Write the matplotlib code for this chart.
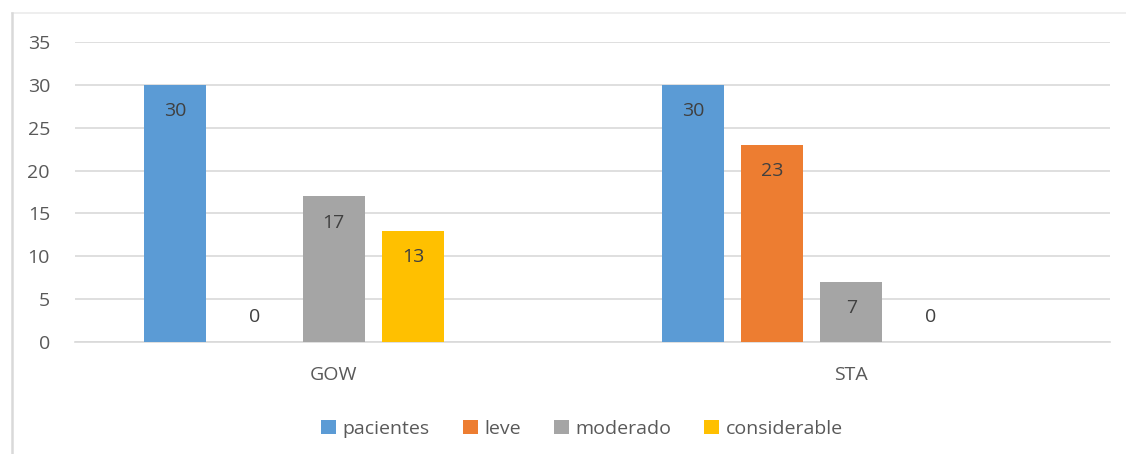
import numpy as np
import matplotlib
matplotlib.use("Agg")
import matplotlib.pyplot as plt
from matplotlib.lines import Line2D

categories = ["GOW", "STA"]
series_names = ["pacientes", "leve", "moderado", "considerable"]
pacientes = [30, 30]
leve = [0, 23]
moderado = [17, 7]
considerable = [13, 0]
colors = ["#5B9BD5", "#ED7D31", "#A5A5A5", "#FFC000"]

plt.rcParams["font.family"] = ["Open Sans", "DejaVu Sans"]
text_color = "#595959"

fig = plt.figure(figsize=(11.26, 4.54), dpi=100)
# chart border (cropped at right/bottom like the original)
fig.add_artist(Line2D([12 / 1126, 1.0], [1 - 13 / 454, 1 - 13 / 454],
                      transform=fig.transFigure, color="#EBEBEB", linewidth=1.2))
fig.add_artist(Line2D([12 / 1126, 12 / 1126], [0, 1 - 13 / 454],
                      transform=fig.transFigure, color="#D9D9D9", linewidth=1.8))

ax = fig.add_axes([75 / 1126, 112 / 454, 1035 / 1126, 300 / 454])

x = np.arange(len(categories))
width = 0.12
step = 0.153
values = [pacientes, leve, moderado, considerable]
for i, (name, vals, c) in enumerate(zip(series_names, values, colors)):
    pos = x + (i - 2) * step
    bars = ax.bar(pos, vals, width, color=c, label=name, zorder=3)
    for b, v in zip(bars, vals):
        off = -19 if v > 0 else 18
        ax.annotate(str(v), (b.get_x() + b.get_width() / 2, v),
                    xytext=(0, off), textcoords="offset points",
                    ha="center", va="center", fontsize=14, color="#404040", zorder=4)

ax.set_xlim(-0.5, 1.5)
ax.set_ylim(0, 35)
ax.set_yticks(range(0, 36, 5))
ax.set_xticks(x)
ax.set_xticklabels(categories)
ax.grid(axis="y", color="#D9D9D9", linewidth=1.2, zorder=0)
for s in ["top", "right", "left"]:
    ax.spines[s].set_visible(False)
ax.spines["bottom"].set_color("#D9D9D9")
ax.spines["bottom"].set_linewidth(1.2)
ax.tick_params(length=0, labelsize=14, colors=text_color)
ax.tick_params(axis="y", pad=18)
ax.tick_params(axis="x", pad=17)

ax.legend(loc="upper center", bbox_to_anchor=(0.49, -0.2), ncol=4, frameon=False,
          fontsize=14, labelcolor=text_color, handlelength=0.75, handleheight=0.75,
          handletextpad=0.35, columnspacing=1.7)

fig.savefig("out.png", dpi=100)
